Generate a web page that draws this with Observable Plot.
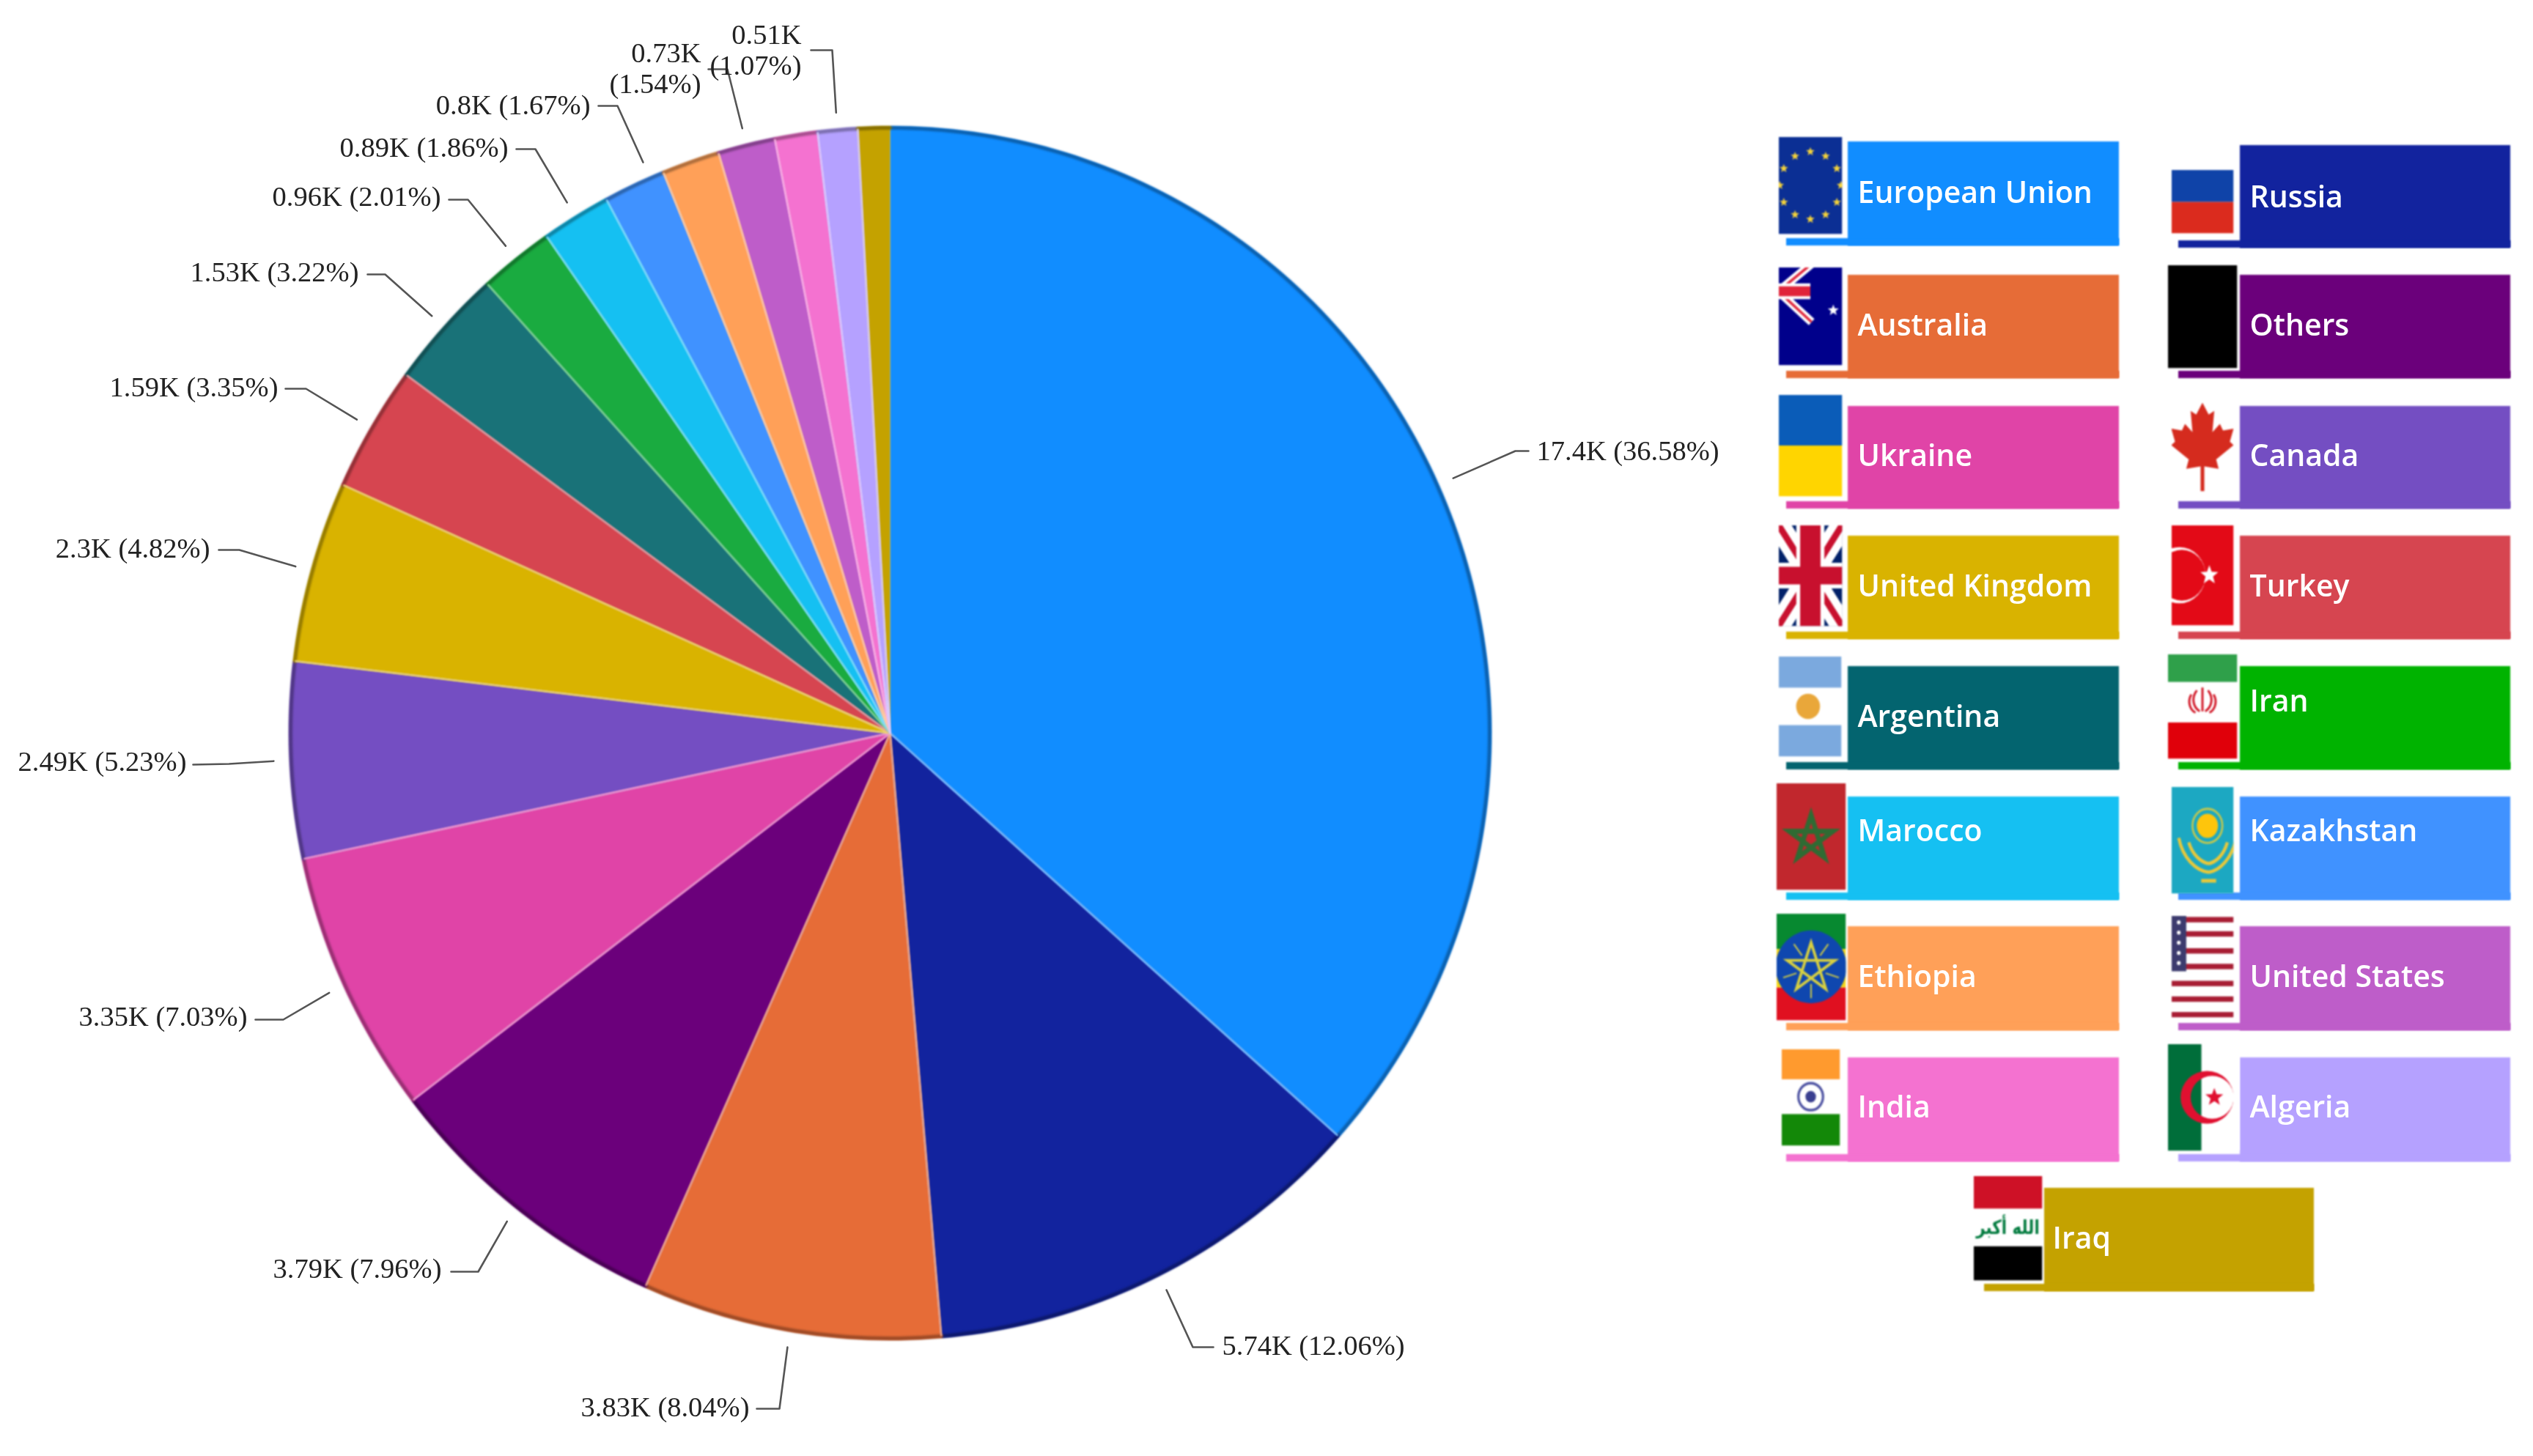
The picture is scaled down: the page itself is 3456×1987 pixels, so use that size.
<!DOCTYPE html>
<html>
<head>
<meta charset="utf-8">
<script src="https://cdn.jsdelivr.net/npm/d3@7"></script>
<script src="https://cdn.jsdelivr.net/npm/@observablehq/plot@0.6"></script>
<style>html,body{margin:0;padding:0;background:#fff;overflow:hidden}svg{display:block}</style>
</head>
<body>
<div id="chart"></div>
<script>
// ---------- data ----------
const names = ["European Union","Russia","Australia","Others","Ukraine","Canada","United Kingdom","Turkey","Argentina","Iran","Marocco","Kazakhstan","Ethiopia","United States","India","Algeria","Iraq"];
const percents = [36.58,12.06,8.04,7.96,7.03,5.23,4.82,3.35,3.22,2.01,1.86,1.67,1.55,1.54,1.15,1.07,0.86];
const sliceColors = ["#118DFF","#12239E","#E66C37","#6B007B","#E044A7","#744EC2","#D9B300","#D64550","#197278","#1AAB40","#15C0F2","#4092FF","#FFA058","#BE5DC9","#F472D0","#B5A1FF","#C4A200"];
const legendColors = ["#118DFF","#12239E","#E66C37","#6B007B","#E044A7","#744EC2","#D9B300","#D64550","#03646F","#00B300","#15C0F2","#4092FF","#FFA058","#BE5DC9","#F472D0","#B5A1FF","#C4A200"];
const labelNames = ["European Union","Russia","Australia","Others","Ukraine","Canada","United Kingdom","Turkey","Argentina","Iran","Marocco","Kazakhstan","United States","Algeria"];
const labelTexts = ["17.4K (36.58%)","5.74K (12.06%)","3.83K (8.04%)","3.79K (7.96%)","3.35K (7.03%)","2.49K (5.23%)","2.3K (4.82%)","1.59K (3.35%)","1.53K (3.22%)","0.96K (2.01%)","0.89K (1.86%)","0.8K (1.67%)","0.73K\n(1.54%)","0.51K\n(1.07%)"];

// ---------- layout (page units) ----------
const W = 3456, H = 1987, cx = 1214, cy = 1000, rx = 820, ry = 828;
// label anchor x, y, side; leader elbow and leader tail next to text
const labelLayout = [
  {tx:2096,ty:614,a:"start",el:[2067,615],end:[2085,615]},
  {tx:1667,ty:1835,a:"start",el:[1627,1838],end:[1655,1838]},
  {tx:1022,ty:1919,a:"end",el:[1063,1922],end:[1032,1922]},
  {tx:602,ty:1730,a:"end",el:[652,1735],end:[615,1735]},
  {tx:337,ty:1386,a:"end",el:[386,1391],end:[348,1391]},
  {tx:254,ty:1038,a:"end",el:[312,1042],end:[263,1043]},
  {tx:286,ty:747,a:"end",el:[326,750],end:[298,750]},
  {tx:379,ty:527,a:"end",el:[417,530],end:[389,530]},
  {tx:489,ty:370,a:"end",el:[525,374],end:[501,374]},
  {tx:601,ty:267,a:"end",el:[638,272],end:[612,272]},
  {tx:693,ty:200,a:"end",el:[730,203],end:[704,203]},
  {tx:805,ty:142,a:"end",el:[842,144],end:[816,144],shift:0.45},
  {tx:956,ty:92,a:"end",el:[992,94],end:[966,94]},
  {tx:1093,ty:67,a:"end",el:[1135,68],end:[1106,68]}
];
const STRIP = 10;
const colLeft = {bar:2521,end:2891,strip:2437,text:2534};
const colRight = {bar:3056,end:3425,strip:2972,text:3069};
const colMid = {bar:2789,end:3157,strip:2707,text:2800};
const legendLayout = {
  "European Union":{c:colLeft,t:193,b:335,ty:263,f:[2426,2513,186,319]},
  "Russia":{c:colRight,t:198,b:338,ty:269,f:[2962,3047,231,318]},
  "Australia":{c:colLeft,t:375,b:516,ty:444,f:[2426,2513,364,498]},
  "Others":{c:colRight,t:375,b:516,ty:444,f:[2957,3052,361,502]},
  "Ukraine":{c:colLeft,t:554,b:694,ty:622,f:[2426,2513,538,677]},
  "Canada":{c:colRight,t:554,b:694,ty:622,f:[2962,3047,549,670]},
  "United Kingdom":{c:colLeft,t:731,b:872,ty:800,f:[2426,2513,716,854]},
  "Turkey":{c:colRight,t:731,b:872,ty:800,f:[2962,3047,716,853]},
  "Argentina":{c:colLeft,t:909,b:1050,ty:978,f:[2426,2512,895,1032]},
  "Iran":{c:colRight,t:909,b:1050,ty:957,f:[2957,3052,892,1035]},
  "Marocco":{c:colLeft,t:1087,b:1228,ty:1134,f:[2423,2518,1068,1214]},
  "Kazakhstan":{c:colRight,t:1087,b:1228,ty:1134,f:[2962,3047,1073,1219]},
  "Ethiopia":{c:colLeft,t:1264,b:1406,ty:1333,f:[2423,2518,1246,1392]},
  "United States":{c:colRight,t:1264,b:1406,ty:1333,f:[2962,3047,1249,1388]},
  "India":{c:colLeft,t:1443,b:1585,ty:1511,f:[2430,2510,1431,1563]},
  "Algeria":{c:colRight,t:1443,b:1585,ty:1511,f:[2957,3055,1424,1570]},
  "Iraq":{c:colMid,t:1621,b:1762,ty:1690,f:[2692,2786,1604,1747]}
};

// ---------- flags as small pictures ----------
const star = (x,y,r,fill,rot=0) => {
  const p = d3.range(10).map(i => {
    const a = rot + i*Math.PI/5, q = i%2 ? r*0.42 : r;
    return `${(x+q*Math.sin(a)).toFixed(1)},${(y-q*Math.cos(a)).toFixed(1)}`;
  }).join(" ");
  return `<polygon points="${p}" fill="${fill}"/>`;
};
const pentagram = (x,y,r,stroke,w) => {
  const p = [0,2,4,1,3].map(i => {
    const a = i*2*Math.PI/5;
    return `${(x+r*Math.sin(a)).toFixed(1)},${(y-r*Math.cos(a)).toFixed(1)}`;
  }).join(" ");
  return `<polygon points="${p}" fill="none" stroke="${stroke}" stroke-width="${w}"/>`;
};
const R = (x,y,w,h,f) => `<rect x="${x}" y="${y}" width="${w}" height="${h}" fill="${f}"/>`;
const L = (a,b,c,d,s,w) => `<line x1="${a}" y1="${b}" x2="${c}" y2="${d}" stroke="${s}" stroke-width="${w}"/>`;
const C = (x,y,r,f,extra="") => `<circle cx="${x}" cy="${y}" r="${r}" fill="${f}" ${extra}/>`;
const leafRight = [[50,0],[60,20],[69,14],[66,50],[78,36],[83,47],[100,44],[94,66],[100,72],[72,96],[76,112],[53,108],[53,150]];
const leafPts = leafRight.concat(leafRight.slice().reverse().map(([x,y]) => [100-x,y])).map(p => p.join(",")).join(" ");
const flagArt = {
  "European Union": R(0,0,100,150,"#0B2F94") + d3.range(12).map(i => star(50+48*Math.sin(i*Math.PI/6),75-52*Math.cos(i*Math.PI/6),7,"#F5D33A")).join(""),
  "Russia": R(0,0,100,76,"#0F43A8") + R(0,76,100,74,"#DB2B1E"),
  "Australia": R(0,0,100,150,"#00008B") + L(0,37,52,-5,"#fff",13)+L(0,37,52,84,"#fff",13)+L(0,37,52,-5,"#E0243A",4)+L(0,37,52,84,"#E0243A",4)+L(0,37,50,37,"#fff",24)+L(0,37,50,37,"#E0243A",15)+star(86,66,9,"#fff"),
  "Others": R(0,0,100,150,"#000"),
  "Ukraine": R(0,0,100,75,"#0A5CB8") + R(0,75,100,75,"#FFD500"),
  "Canada": `<polygon points="${leafPts}" fill="#D52B1E"/>`,
  "United Kingdom": R(0,0,100,150,"#012169") + L(0,0,100,150,"#fff",34)+L(100,0,0,150,"#fff",34)+L(0,0,100,150,"#C8102E",10)+L(100,0,0,150,"#C8102E",10)+L(50,0,50,150,"#fff",44)+L(0,75,100,75,"#fff",38)+L(50,0,50,150,"#C8102E",32)+L(0,75,100,75,"#C8102E",26),
  "Turkey": R(0,0,100,150,"#E30A17") + C(13,75,42,"#fff") + C(17,75,38,"#E30A17") + star(61,75,15,"#fff"),
  "Argentina": R(0,0,100,150,"#fff") + R(0,0,100,47,"#7BA9DE") + R(0,103,100,47,"#7BA9DE") + `<ellipse cx="47" cy="75" rx="19" ry="19" fill="#E9A73A"/>`,
  "Iran": R(0,0,100,150,"#fff") + R(0,0,100,40,"#2FA04A") + R(0,98,100,52,"#E0000A") + `<path d="M50 48V82M42 52C34 62 36 76 46 82M58 52C66 62 64 76 54 82M34 58C28 68 32 80 40 84M66 58C72 68 68 80 60 84" fill="none" stroke="#D01020" stroke-width="3"/>`,
  "Marocco": R(0,0,100,150,"#C1272D") + pentagram(50,78,33,"#2F6B33",7),
  "Kazakhstan": R(0,0,100,150,"#1CA8C2") + C(58,55,17,"#FEC50C") + `<circle cx="58" cy="55" r="24" fill="none" stroke="#C8C84A" stroke-width="3"/><path d="M12 72C18 100 40 118 60 120M28 78C34 96 48 106 60 108M104 72C98 100 78 118 60 120M90 78C84 96 72 106 60 108M48 132H72" fill="none" stroke="#E8C83A" stroke-width="5"/>`,
  "Ethiopia": R(0,0,100,50,"#078930") + R(0,50,100,54,"#F5D614") + R(0,104,100,46,"#E01020") + C(50,75,51,"#0F47AF") + pentagram(50,77,36,"#D8D040",4) + d3.range(5).map(i => { const a=(i+0.5)*2*Math.PI/5; return L(50+22*Math.sin(a),77-22*Math.cos(a),50+42*Math.sin(a),77-42*Math.cos(a),"#D8D040",2); }).join(""),
  "United States": R(0,0,100,150,"#fff") + [6,27,52,75,100,123,146].map(y => R(0,y-4,100,8,"#A81E34")).join("") + R(0,0,24,82,"#3C3B6E") + d3.range(5).map(i => C(12,10+i*15,3,"#fff")).join(""),
  "India": R(0,0,100,150,"#fff") + R(0,0,100,47,"#FF9A2E") + R(0,101,100,49,"#138808") + `<circle cx="50" cy="74" r="21" fill="#fff" stroke="#4A4FA0" stroke-width="4"/>` + C(50,74,9,"#3A3F90"),
  "Algeria": R(0,0,100,150,"#fff") + R(0,0,47,150,"#006E3A") + `<path fill-rule="evenodd" fill="#E01030" d="M18 75a37 37 0 1 0 74 0a37 37 0 1 0 -74 0ZM32 75a30 30 0 1 0 60 0a30 30 0 1 0 -60 0Z"/>` + star(65,75,13,"#E01030"),
  "Iraq": R(0,0,100,150,"#fff") + R(0,0,100,47,"#CE1126") + R(0,101,100,49,"#000") + `<text x="50" y="83" text-anchor="middle" font-size="28" font-weight="700" font-family="DejaVu Sans" fill="#007A3D" textLength="92" lengthAdjust="spacingAndGlyphs">الله أكبر</text>`
};
const flagSrc = n => "data:image/svg+xml;charset=utf-8," + encodeURIComponent(
  `<svg xmlns="http://www.w3.org/2000/svg" width="200" height="300" viewBox="0 0 100 150" preserveAspectRatio="none">${flagArt[n]}</svg>`);

// ---------- tables built from the lists ----------
const total = d3.sum(percents);
const startPct = d3.cumsum([0, ...percents]);
const pos = (pct, r = 1, extra = 0) => {
  const a = pct / total * 2 * Math.PI;
  return {x: cx + (rx * r + extra) * Math.sin(a), y: cy - (ry * r + extra) * Math.cos(a)};
};
const arcPts = (i, r = 1, extra = 0) => {
  const a = startPct[i], b = startPct[i + 1], n = Math.max(2, Math.ceil((b - a) * 3.6));
  return d3.range(n + 1).map(k => ({name: names[i], ...pos(a + (b - a) * k / n, r, extra)}));
};
const wedges = names.flatMap((name, i) => [{name, x: cx, y: cy}, ...arcPts(i)].map(p => ({...p, color: sliceColors[i]})));
const rims = names.flatMap((name, i) => arcPts(i, 1, -2).map(p => ({...p, color: d3.color(sliceColors[i]).darker(1.1).formatHex()})));
const seams = names.flatMap((name, i) => {
  const lighter = d3.lab(sliceColors[i]).l > d3.lab(sliceColors[(i + names.length - 1) % names.length]).l ? sliceColors[i] : sliceColors[(i + names.length - 1) % names.length];
  const col = d3.interpolateRgb(lighter, "#fff")(0.45);
  return [{name, x: cx, y: cy, color: col}, {name, ...pos(startPct[i], 1, -3), color: col}];
}).filter((d, i) => i > 1);
const labels = labelNames.map((name, k) => ({text: labelTexts[k], ...labelLayout[k]}));
const leaders = labelNames.flatMap((name, k) => {
  const i = names.indexOf(name), l = labelLayout[k];
  const s = pos(startPct[i] + percents[i] / 2 + (l.shift || 0), 1, 22);
  return [{name, x: l.end[0], y: l.end[1]}, {name, x: l.el[0], y: l.el[1]}, {name, x: s.x, y: s.y}];
});
const legend = names.map((name, i) => {
  const l = legendLayout[name];
  return {name, color: legendColors[i], x1: l.c.bar, x2: l.c.end, sx: l.c.strip, tx: l.c.text, t: l.t, b: l.b, ty: l.ty,
    fx: (l.f[0] + l.f[1]) / 2, fy: (l.f[2] + l.f[3]) / 2, fw: l.f[1] - l.f[0], fh: l.f[3] - l.f[2], src: flagSrc(name)};
});

const labelStyle = {fontFamily: "Liberation Serif", fontSize: 38.5, fill: "#222", lineAnchor: "middle", lineHeight: 1.1, imageFilter: "blur(0.7px)"};
const chart = Plot.plot({
  width: W, height: H, margin: 0,
  x: {domain: [0, W], axis: null},
  y: {domain: [H, 0], axis: null},
  marks: [
    Plot.line(wedges, {x: "x", y: "y", z: "name", fill: "color", stroke: "none", curve: "linear-closed", imageFilter: "blur(0.8px)"}),
    Plot.line(rims, {x: "x", y: "y", z: "name", stroke: "color", strokeWidth: 5, fill: "none", imageFilter: "blur(1.6px)"}),
    Plot.line(seams, {x: "x", y: "y", z: "name", stroke: "color", strokeWidth: 2.5, imageFilter: "blur(0.8px)"}),
    Plot.line(leaders, {x: "x", y: "y", z: "name", stroke: "#555", strokeWidth: 2.6, imageFilter: "blur(0.6px)"}),
    Plot.text(labels.filter(d => d.a === "start"), {x: "tx", y: "ty", text: "text", textAnchor: "start", ...labelStyle}),
    Plot.text(labels.filter(d => d.a === "end"), {x: "tx", y: "ty", text: "text", textAnchor: "end", ...labelStyle}),
    Plot.rect(legend, {x1: "x1", x2: "x2", y1: "t", y2: "b", fill: "color", imageFilter: "blur(0.8px)"}),
    Plot.rect(legend, {x1: "sx", x2: "x2", y1: d => d.b - STRIP, y2: "b", fill: "color", imageFilter: "blur(0.8px)"}),
    Plot.image(legend, {x: "fx", y: "fy", width: "fw", height: "fh", src: "src", preserveAspectRatio: "none", imageFilter: "blur(0.8px)"}),
    Plot.text(legend, {x: "tx", y: "ty", text: "name", textAnchor: "start", fontFamily: "Open Sans", fontWeight: 600, fontSize: 41, fill: "#fff", lineAnchor: "middle", imageFilter: "blur(0.5px)"})
  ]
});
document.getElementById("chart").append(chart);
</script>
</body>
</html>
